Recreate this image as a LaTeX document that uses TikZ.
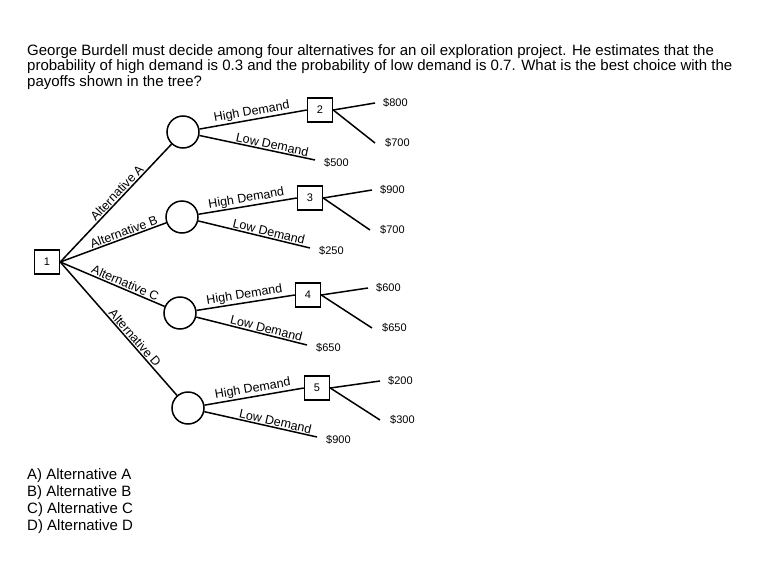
\documentclass[tikz,border=0pt]{standalone}
\usepackage{fontspec}
\setmainfont{Liberation Sans}
\begin{document}
\begin{tikzpicture}[x=1pt,y=-1pt,
  dec/.style={draw,line width=1.5pt,minimum width=25pt,minimum height=24pt,inner sep=0pt,font=\fontsize{11}{11}\selectfont},
  chance/.style={draw,circle,line width=1.5pt,minimum size=32pt,inner sep=0pt},
  br/.style={line width=1.5pt},
  lbl/.style={font=\fontsize{12.5}{12.5}\selectfont,sloped,above,inner sep=1pt},
  pay/.style={font=\fontsize{11}{11}\selectfont,anchor=west,inner sep=1pt},
  txt/.style={font=\fontsize{15}{15}\selectfont,anchor=west,inner sep=0pt}]
\useasboundingbox (0,0) rectangle (779,570);
\fill[white] (0,0) rectangle (779,570);
\node[txt] (t1) at (27,52) {George Burdell must decide among four alternatives for an oil exploration project. He estimates that the};
\node[txt] (t2) at (27,67) {probability of high demand is 0.3 and the probability of low demand is 0.7. What is the best choice with the};
\node[txt] (t3) at (27,83) {payoffs shown in the tree?};
\node[dec] (n1) at (47,262) {1};
\node[chance] (a) at (183,132) {};
\node[chance] (b) at (182,217) {};
\node[chance] (c) at (180,313) {};
\node[chance] (d) at (188,408) {};
\node[dec] (n2) at (320,110) {2};
\node[dec] (n3) at (310,198) {3};
\node[dec] (n4) at (308,295) {4};
\node[dec] (n5) at (317,388) {5};
\draw[br] (n1.east) -- node[lbl,pos=0.55]{Alternative A} (a);
\draw[br] (n1.east) -- node[lbl,pos=0.62]{Alternative B} (b);
\draw[br] (n1.east) -- node[lbl,pos=0.6]{Alternative C} (c);
\draw[br] (n1.east) -- node[lbl,pos=0.6]{Alternative D} (d);
\foreach \c/\n/\lx/\ly/\v in {a/n2/315/160/\$500, b/n3/310/248/\$250, c/n4/307/345/\$650, d/n5/317/437/\$900}{
  \coordinate (e\c) at (\lx,\ly);
  \draw[br] (\c) -- node[lbl,pos=0.5]{High Demand} (\n.west);
  \draw[br] (\c) -- node[lbl,pos=0.62]{Low Demand} (e\c);
  \node[pay] (p\c) at (\lx+8,\ly+3) {\v};
}
\foreach \n/\ax/\ay/\bx/\by/\u/\w in {n2/375/103/375/143/\$800/\$700, n3/372/190/370/230/\$900/\$700, n4/368/288/372/328/\$600/\$650, n5/380/381/380/420/\$200/\$300}{
  \coordinate (u\n) at (\ax,\ay);
  \coordinate (w\n) at (\bx,\by);
  \draw[br] (\n.east) -- (u\n);
  \draw[br] (\n.east) -- (w\n);
  \node[pay] at (\ax+7,\ay) {\u};
  \node[pay] at (\bx+9,\by) {\w};
}
\node[txt] (c1) at (27,476) {A) Alternative A};
\node[txt] (c2) at (27,493) {B) Alternative B};
\node[txt] (c3) at (27,510) {C) Alternative C};
\node[txt] (c4) at (27,527) {D) Alternative D};
\end{tikzpicture}
\end{document}
